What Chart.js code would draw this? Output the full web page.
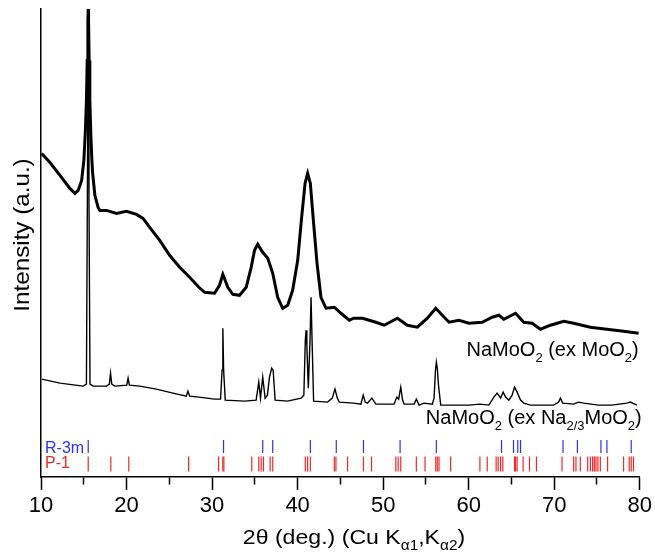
<!DOCTYPE html>
<html>
<head>
<meta charset="utf-8">
<script src="https://cdn.jsdelivr.net/npm/chart.js@4"></script>
<style>
html, body { margin: 0; padding: 0; background: #fff; }
#wrap { width: 655px; height: 556px; }
</style>
</head>
<body>
<div id="wrap"><canvas id="xrd"></canvas></div>
<script>
const FONT = "'Liberation Sans', Arial, sans-serif";

// NaMoO2 (ex MoO2) - upper pattern, 2theta (deg) and intensity (a.u.)
const exMoO2Tth = [10.08,11.05,12.22,13.38,13.97,14.35,14.75,15.01,15.19,15.31,15.40,15.48,15.52,15.56,15.63,15.71,15.83,15.95,16.03,16.30,16.68,16.88,17.66,18.83,19.99,21.16,21.93,22.71,23.88,25.04,26.21,27.38,28.46,29.13,30.29,30.87,31.26,31.84,32.43,33.21,33.99,34.57,34.96,35.34,35.92,36.51,37.09,37.67,38.26,38.84,39.42,40.01,40.47,40.87,41.17,41.49,41.87,42.27,42.73,43.32,44.29,45.07,46.04,46.54,47.59,49.15,50.12,51.67,52.83,54.00,55.17,56.15,56.92,57.70,58.86,60.03,61.58,62.75,63.53,64.11,65.48,66.44,67.41,68.39,69.56,71.11,72.27,74.22,76.16,78.11,79.86];
const exMoO2Int = [324,315,302,289,284,287,297,317,347,377,417,457,469,457,417,377,342,317,305,282,270,267,267,264,266,263,259,250,237,222,210,200,190,185,184,192,203,190,183,182,190,210,227,233,225,219,204,180,169,172,187,217,260,294,304,294,254,214,180,169,170,164,157,159,159,155,152,159,152,150,159,169,162,155,157,154,155,160,162,158,164,155,154,148,152,156,154,150,148,146,144];

// NaMoO2 (ex Na2/3MoO2) - lower pattern
const exNaTth = [10.08,12.22,14.93,15.31,15.42,15.52,15.61,15.73,16.10,17.66,17.99,18.13,18.27,18.63,20.03,20.18,20.33,21.55,23.49,25.43,26.99,27.18,27.38,28.46,30.29,30.99,31.17,31.26,31.35,31.54,33.79,35.15,35.46,35.66,35.92,36.20,36.47,36.71,36.97,37.14,37.37,38.84,40.40,40.73,40.90,40.99,41.08,41.25,41.45,41.57,41.69,41.87,43.50,44.05,44.37,44.64,44.87,46.54,47.40,47.67,47.90,48.17,48.68,49.15,51.28,51.60,51.81,52.06,52.27,52.45,53.62,53.88,54.20,54.78,55.75,55.95,56.12,56.22,56.33,56.47,56.73,57.70,60.03,61.31,62.36,62.94,63.33,63.73,64.03,64.31,64.69,65.08,65.36,65.66,66.06,66.44,67.22,69.94,70.52,70.72,70.99,72.27,72.86,73.44,75.19,76.71,78.49,78.89,79.66];
const exNaInt = [98,94,91,93,277,465,277,93,91,91,93,104,93,91,92,99,92,91,88,84,81,86,81,80,78,78,107,149,107,77,76,77,95,79,100,79,82,100,109,107,77,76,79,82,137,147,132,89,137,180,137,76,75,79,88,79,75,74,73,82,75,74,79,73,73,80,78,90,77,73,73,78,72,74,73,79,107,115,109,92,72,72,72,73,72,80,84,79,85,80,77,82,90,85,77,74,72,72,75,79,74,73,75,74,72,72,74,75,72];

// reflection positions (2theta)
const r3mPeaks = [15.52,31.34,35.92,37.09,41.49,44.52,47.70,51.98,56.22,63.84,65.24,65.74,66.06,71.03,72.71,75.46,76.16,79.00];
const p1Peaks = [15.52,18.16,20.26,27.26,30.76,31.26,31.38,34.64,35.46,35.74,36.01,36.79,37.09,40.90,41.17,41.49,44.29,44.48,45.84,47.70,48.64,51.48,51.75,52.06,53.88,54.90,56.15,56.33,56.53,57.89,61.31,62.16,63.21,63.45,63.73,63.99,65.36,65.47,65.66,66.36,67.11,67.92,70.91,72.27,72.54,73.05,73.91,74.22,74.49,74.69,74.88,75.11,75.39,76.24,78.11,78.77,79.00,79.27];
const r3mRow = 30.5;
const p1Row = 13;

const BLUE = '#3030f0';
const RED = '#f02828';

const toXY = (xs, ys) => xs.map((x, i) => ({ x: x, y: ys[i] }));

// draws a text with subscripts, parts = [[text, isSub], ...]
function drawRich(ctx, parts, x, y, size, align) {
    const subSize = Math.round(size * 0.65);
    let total = 0;
    const widths = parts.map(p => {
        ctx.font = `${p[1] ? subSize : size}px ${FONT}`;
        const w = ctx.measureText(p[0]).width;
        total += w;
        return w;
    });
    let cx = x;
    if (align === 'right') cx = x - total;
    if (align === 'center') cx = x - total / 2;
    parts.forEach((p, i) => {
        ctx.font = `${p[1] ? subSize : size}px ${FONT}`;
        ctx.fillText(p[0], cx, p[1] ? y + size * 0.28 : y);
        cx += widths[i];
    });
}

const labelsPlugin = {
    id: 'labels',
    afterDraw(chart) {
        const ctx = chart.ctx;
        const area = chart.chartArea;
        ctx.save();
        ctx.textAlign = 'left';
        ctx.textBaseline = 'alphabetic';
        ctx.fillStyle = '#000';

        drawRich(ctx, [['NaMoO', false], ['2', true], [' (ex MoO', false], ['2', true], [')', false]],
            area.right - 1, 356, 20, 'right');
        drawRich(ctx, [['NaMoO', false], ['2', true], [' (ex Na', false], ['2/3', true], ['MoO', false], ['2', true], [')', false]],
            area.right + 2, 424, 20, 'right');

        // x axis title, slightly stretched like the original figure
        ctx.save();
        ctx.translate(354, 544);
        ctx.scale(1.1, 1);
        drawRich(ctx, [['2\u03b8 (deg.) (Cu K', false], ['\u03b11', true], [',K', false], ['\u03b12', true], [')', false]],
            0, 0, 21, 'center');
        ctx.restore();

        // y axis title
        ctx.save();
        ctx.translate(23, 235);
        ctx.rotate(-Math.PI / 2);
        ctx.scale(1.1, 1);
        ctx.textAlign = 'center';
        ctx.textBaseline = 'middle';
        ctx.font = `22px ${FONT}`;
        ctx.fillText('Intensity (a.u.)', 0, 0);
        ctx.restore();

        ctx.font = `16px ${FONT}`;
        ctx.fillStyle = BLUE;
        ctx.fillText('R-3m', area.left + 4, 452.5);
        ctx.fillStyle = RED;
        ctx.fillText('P-1', area.left + 4, 468);
        ctx.restore();
    }
};

const ctx = document.getElementById('xrd').getContext('2d');
new Chart(ctx, {
    type: 'line',
    data: {
        datasets: [
            {
                label: 'NaMoO2 (ex Na2/3MoO2)',
                data: toXY(exNaTth, exNaInt),
                borderColor: '#000',
                borderWidth: 1.4,
                pointRadius: 0,
                tension: 0
            },
            {
                label: 'NaMoO2 (ex MoO2)',
                data: toXY(exMoO2Tth, exMoO2Int),
                borderColor: '#000',
                borderWidth: 3,
                pointRadius: 0,
                tension: 0
            },
            {
                label: 'R-3m',
                type: 'scatter',
                data: r3mPeaks.map(t => ({ x: t, y: r3mRow })),
                pointStyle: 'line',
                rotation: 90,
                radius: 6.5,
                borderWidth: 1.2,
                borderColor: BLUE,
                backgroundColor: BLUE
            },
            {
                label: 'P-1',
                type: 'scatter',
                data: p1Peaks.map(t => ({ x: t, y: p1Row })),
                pointStyle: 'line',
                rotation: 90,
                radius: 7.5,
                borderWidth: 1.2,
                borderColor: RED,
                backgroundColor: RED
            }
        ]
    },
    options: {
        responsive: true,
        maintainAspectRatio: false,
        animation: false,
        layout: { padding: { top: 8, right: 14, left: 0, bottom: 0 } },
        plugins: {
            legend: { display: false },
            tooltip: { enabled: false }
        },
        scales: {
            x: {
                type: 'linear',
                min: 10,
                max: 80,
                afterFit(scale) { scale.height = 79; },
                border: { display: true, color: '#000', width: 1.5 },
                grid: {
                    display: true,
                    drawOnChartArea: false,
                    drawTicks: true,
                    tickLength: 13,
                    tickWidth: 1.5,
                    tickColor: '#000',
                    tickBorderDash: c => (c.tick && c.tick.value % 10 !== 0) ? [7, 30] : []
                },
                ticks: {
                    stepSize: 5,
                    autoSkip: false,
                    maxRotation: 0,
                    padding: 3,
                    color: '#000',
                    font: { family: FONT, size: 22 },
                    callback: v => (v % 10 === 0 ? v : '')
                }
            },
            y: {
                min: 0,
                max: 469,
                afterFit(scale) { scale.width = 41; },
                border: { display: true, color: '#000', width: 1.5 },
                grid: { display: false },
                ticks: { display: false }
            }
        }
    },
    plugins: [labelsPlugin]
});
</script>
</body>
</html>
